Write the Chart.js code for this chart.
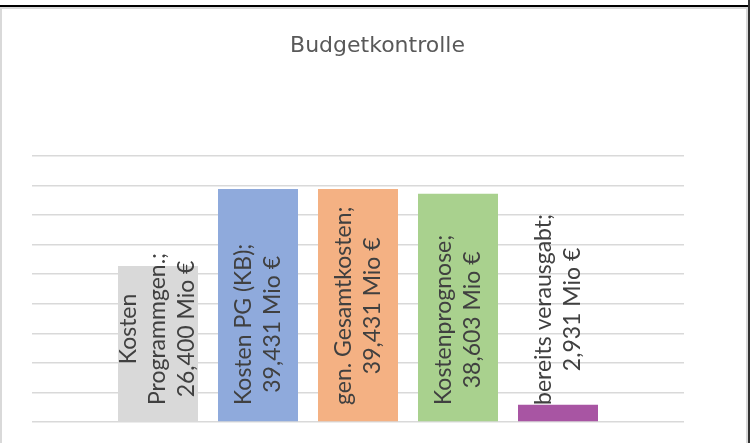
<!DOCTYPE html>
<html>
<head>
<meta charset="utf-8">
<script src="https://cdn.jsdelivr.net/npm/chart.js@4"></script>
<style>
  body { margin: 0; width: 755px; height: 443px; overflow: hidden; background: #fff; position: relative; }
  #chart { position: absolute; left: 0; top: 0; }
  .box { position: absolute; left: 0; top: 7px; width: 748px; height: 440px; box-sizing: border-box; border: 2px solid #d9d9d9; }
  .topline { position: absolute; left: 0; top: 5px; width: 748px; height: 2px; background: #000; }
  .rightline { position: absolute; left: 748px; top: 0; width: 2px; height: 443px; background: #333; }
</style>
</head>
<body>
<div class="box"></div>
<canvas id="chart" width="755" height="443"></canvas>
<div class="topline"></div>
<div class="rightline"></div>
<script>
const seriesNames = ["Kosten Programmgen.", "Kosten PG (KB)", "gen. Gesamtkosten", "Kostenprognose", "bereits verausgabt"];
const seriesValues = [26.4, 39.431, 39.431, 38.603, 2.931];
const seriesColors = ["#d9d9d9", "#8faadc", "#f4b183", "#a9d18e", "#a855a3"];
const unit = "Mio €";

const labelFont = "23px Lato";

function wrapText(ctx, text, maxWidth) {
  const words = text.split(" ");
  const lines = [];
  let line = "";
  for (const w of words) {
    const test = line ? line + " " + w : w;
    if (line && ctx.measureText(test).width > maxWidth) {
      lines.push(line);
      line = w;
    } else {
      line = test;
    }
  }
  lines.push(line);
  return lines;
}

// rotated data labels, reading bottom to top, starting just above the base
const barLabels = {
  id: "barLabels",
  afterDatasetsDraw(chart) {
    const ctx = chart.ctx;
    const base = chart.scales.y.getPixelForValue(0);
    ctx.save();
    ctx.font = labelFont;
    ctx.fillStyle = "#404040";
    ctx.textAlign = "center";
    ctx.textBaseline = "middle";
    chart.data.datasets.forEach((ds, i) => {
      const bar = chart.getDatasetMeta(i).data[0];
      const value = ds.data[0].toFixed(3).replace(".", ",");
      const lines = wrapText(ctx, seriesNames[i] + ";", 212).concat([value + " " + unit]);
      const w = Math.max(...lines.map((l) => ctx.measureText(l).width));
      const lh = 29;
      ctx.save();
      ctx.translate(bar.x, base - 17);
      ctx.rotate(-Math.PI / 2);
      lines.forEach((l, k) => {
        ctx.fillText(l, w / 2, (k - (lines.length - 1) / 2) * lh);
      });
      ctx.restore();
    });
    ctx.restore();
  },
};

new Chart(document.getElementById("chart"), {
  type: "bar",
  data: {
    labels: [""],
    datasets: seriesNames.map((name, i) => ({
      label: name,
      data: [seriesValues[i]],
      backgroundColor: seriesColors[i],
      categoryPercentage: 500 / 652,
      barPercentage: 0.8,
    })),
  },
  options: {
    responsive: false,
    animation: false,
    devicePixelRatio: 1,
    layout: { padding: { top: 0, bottom: 21, left: 0, right: 0 } },
    plugins: {
      legend: { display: false },
      tooltip: { enabled: false },
      title: {
        display: true,
        text: "Budgetkontrolle",
        color: "#595959",
        font: { family: "DejaVu Sans", size: 22, weight: "normal" },
        padding: { top: 33, bottom: 96.6 },
      },
    },
    scales: {
      x: { display: false },
      y: {
        min: 0,
        max: 45,
        ticks: { display: false, stepSize: 5 },
        grid: { color: "#d9d9d9", lineWidth: 1.5, drawTicks: false },
        border: { display: false },
        afterFit: (s) => { s.width = 32; },
      },
      y2: {
        position: "right",
        ticks: { display: false },
        grid: { display: false },
        border: { display: false },
        afterFit: (s) => { s.width = 71; },
      },
    },
  },
  plugins: [barLabels],
});
</script>
</body>
</html>
